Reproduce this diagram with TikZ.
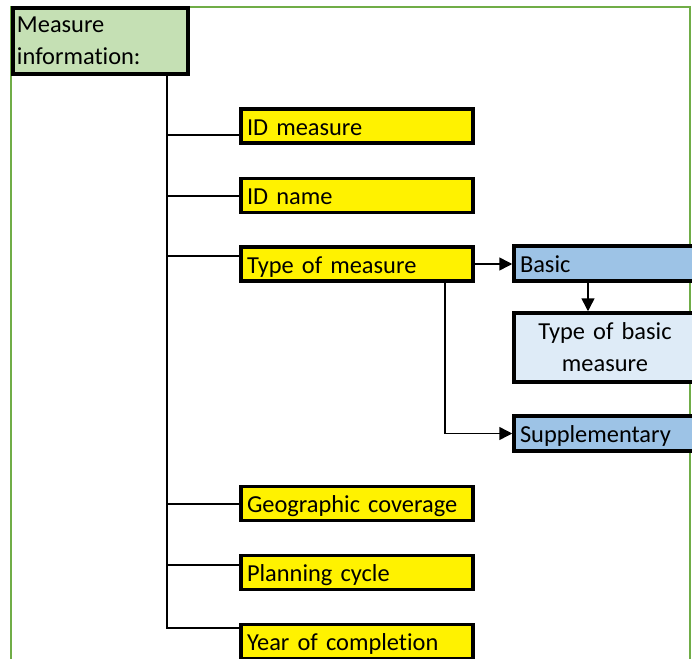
\documentclass[tikz,border=0pt]{standalone}
\usepackage{fontspec}
\setmainfont{Carlito}[Ligatures=NoCommon]
\usepackage{tikz}
\usetikzlibrary{arrows.meta,calc}
\definecolor{framegreen}{HTML}{70AD47}
\definecolor{infogreen}{HTML}{C5E0B4}
\definecolor{basicblue}{HTML}{9DC3E6}
\definecolor{paleblue}{HTML}{DEEBF7}

\begin{document}
\begin{tikzpicture}
		[x=0.5pt,y=-0.5pt,
		font=\fontsize{12.2}{16}\selectfont,
		infobox/.style={rectangle,draw=black,fill=infogreen,line width=1.75pt,
inner xsep=2pt,inner ysep=0pt,minimum width=87.5pt,minimum height=33pt,
text width=83.5pt,align=left},
		fieldbox/.style={rectangle,draw=black,fill=yellow,line width=1.75pt,
inner xsep=3pt,inner ysep=0pt,minimum width=116pt,minimum height=17pt,
text width=110pt,text height=9pt,text depth=0pt,align=left},
		typebox/.style={rectangle,draw=black,fill=basicblue,line width=1.75pt,
inner xsep=3pt,inner ysep=0pt,minimum width=91pt,minimum height=17.5pt,
text width=85pt,text height=9pt,text depth=0pt,align=left},
		subbox/.style={rectangle,draw=black,fill=paleblue,line width=1.75pt,
inner xsep=3pt,inner ysep=0pt,minimum width=91pt,minimum height=34.5pt,
text width=85pt,align=center},
		link/.style={-,line width=0.75pt},
		>={Triangle[length=6.5pt,width=6.5pt]}]
		\useasboundingbox (0,0) rectangle (692,659);
		\draw[framegreen,line width=1pt] (11,680) -- (11,7) -- (690,7) -- (690,680);
		% main box and trunk
		\node at (100.5,41) (info) [infobox] {Measure\\information:};
		\coordinate (top) at (167,74);
		\node at (357,126) (idm) [fieldbox] {ID measure};
		\node at (357,195.5) (idn) [fieldbox] {ID name};
		\node at (357,264) (tom) [fieldbox] {Type of measure};
		\node at (357,503.5) (geo) [fieldbox] {Geographic coverage};
		\node at (357,572.5) (plc) [fieldbox] {Planning cycle};
		\node at (357,641.5) (yoc) [fieldbox] {Year of completion};
		\coordinate (b1) at ($(idm.west)+(0,9)$);
		\coordinate (b2) at ($(idn.west)+(0,0.5)$);
		\coordinate (b3) at ($(tom.west)+(0,-8)$);
		\coordinate (b4) at ($(geo.west)+(0,0.5)$);
		\coordinate (b5) at ($(plc.west)+(0,-7.5)$);
		\coordinate (b6) at ($(yoc.west)+(0,-13.5)$);
		\draw[link] (top) |- (b6);
		\draw[link] (top |- b1) -- (b1);
		\draw[link] (top |- b2) -- (b2);
		\draw[link] (top |- b3) -- (b3);
		\draw[link] (top |- b4) -- (b4);
		\draw[link] (top |- b5) -- (b5);
		% type of measure
		\node at (605,263.5) (basic) [typebox] {Basic};
		\node at (605,347.5) (tob) [subbox] {Type of basic\\measure};
		\node at (605,433.5) (supp) [typebox] {Supplementary};
		\draw[link,->] (tom.east) -- (tom.east -| basic.west);
		\draw[link,->] ($(basic.south)+(-17,0)$) -- ($(tob.north)+(-17,0)$);
		\draw[link,->] ($(tom.south)+(88,0)$) |- (supp.west);
	\end{tikzpicture}
\end{document}
